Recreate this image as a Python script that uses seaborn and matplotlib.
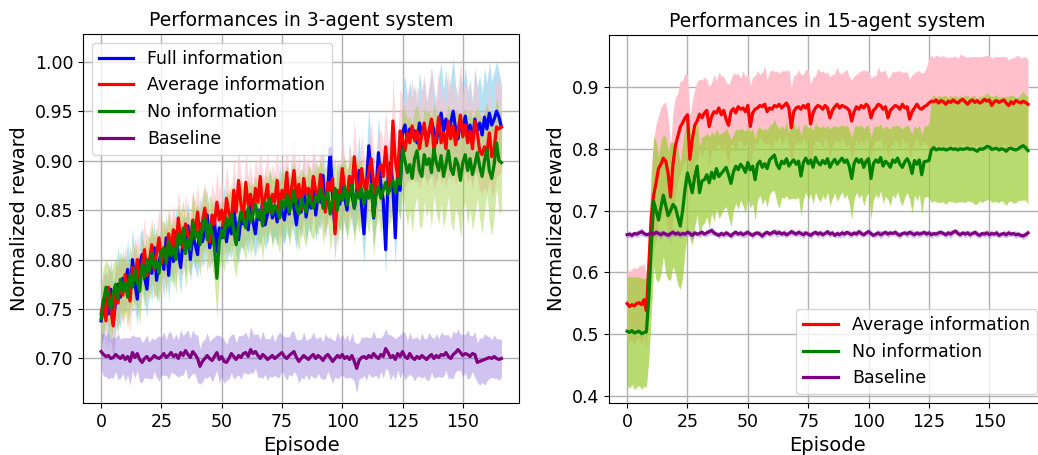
import numpy as np
import pandas as pd
import matplotlib
matplotlib.use("Agg")
import matplotlib.pyplot as plt
import seaborn as sns

episodes = list(range(167))

# ---------------- 3-agent system ----------------
full_3 = [
0.738,0.752,0.760,0.745,0.770,0.735,0.758,0.775,0.762,0.781,
0.770,0.790,0.765,0.800,0.776,0.760,0.795,0.805,0.782,0.770,
0.800,0.786,0.812,0.779,0.798,0.808,0.790,0.822,0.784,0.815,
0.798,0.828,0.806,0.792,0.820,0.812,0.834,0.800,0.825,0.815,
0.805,0.836,0.818,0.828,0.845,0.812,0.826,0.840,0.808,0.832,
0.822,0.846,0.818,0.838,0.826,0.852,0.830,0.820,0.842,0.836,
0.848,0.830,0.856,0.838,0.826,0.850,0.840,0.858,0.835,0.846,
0.862,0.842,0.852,0.838,0.866,0.848,0.840,0.858,0.846,0.870,
0.852,0.835,0.862,0.848,0.876,0.843,0.860,0.852,0.880,0.845,
0.866,0.858,0.885,0.850,0.870,0.912,0.862,0.830,0.868,0.856,
0.878,0.862,0.850,0.884,0.866,0.852,0.870,0.890,0.855,0.826,
0.872,0.915,0.880,0.842,0.868,0.908,0.876,0.860,0.810,0.882,
0.898,0.875,0.822,0.890,0.870,0.928,0.936,0.920,0.932,0.924,
0.930,0.918,0.938,0.926,0.934,0.920,0.928,0.940,0.930,0.918,
0.935,0.948,0.930,0.942,0.926,0.938,0.950,0.932,0.922,0.940,
0.930,0.945,0.928,0.936,0.920,0.942,0.930,0.938,0.926,0.944,
0.932,0.948,0.936,0.942,0.950,0.944,0.934]
full_3_band = [
0.025,0.030,0.028,0.035,0.030,0.040,0.032,0.038,0.030,0.028,
0.026,0.030,0.024,0.032,0.028,0.025,0.030,0.027,0.024,0.029,
0.025,0.030,0.026,0.022,0.028,0.025,0.030,0.024,0.027,0.023,
0.028,0.025,0.022,0.027,0.024,0.030,0.026,0.023,0.028,0.025,
0.024,0.028,0.025,0.030,0.026,0.022,0.027,0.025,0.029,0.024,
0.026,0.030,0.024,0.028,0.025,0.032,0.027,0.024,0.029,0.026,
0.028,0.025,0.030,0.027,0.024,0.029,0.026,0.031,0.025,0.028,
0.030,0.026,0.028,0.024,0.032,0.027,0.025,0.030,0.026,0.033,
0.028,0.025,0.030,0.027,0.034,0.026,0.029,0.025,0.032,0.027,
0.030,0.028,0.035,0.026,0.031,0.038,0.029,0.030,0.033,0.027,
0.032,0.028,0.026,0.034,0.030,0.027,0.031,0.036,0.028,0.030,
0.033,0.040,0.030,0.028,0.032,0.038,0.030,0.027,0.025,0.034,
0.036,0.030,0.028,0.034,0.030,0.045,0.050,0.042,0.048,0.040,
0.046,0.040,0.052,0.044,0.048,0.040,0.046,0.055,0.044,0.040,
0.048,0.052,0.042,0.050,0.044,0.046,0.054,0.045,0.040,0.048,
0.044,0.050,0.042,0.046,0.040,0.052,0.044,0.048,0.042,0.050,
0.046,0.052,0.044,0.048,0.050,0.046,0.042]

avg_3 = [
0.745,0.760,0.738,0.772,0.750,0.733,0.768,0.756,0.776,0.764,
0.785,0.770,0.758,0.792,0.780,0.800,0.776,0.795,0.810,0.784,
0.798,0.815,0.790,0.806,0.822,0.796,0.812,0.800,0.826,0.810,
0.830,0.806,0.842,0.818,0.812,0.836,0.824,0.816,0.840,0.828,
0.848,0.822,0.838,0.852,0.830,0.818,0.845,0.836,0.858,0.840,
0.850,0.832,0.862,0.846,0.838,0.870,0.848,0.880,0.856,0.842,
0.878,0.855,0.866,0.846,0.872,0.858,0.884,0.850,0.862,0.876,
0.848,0.866,0.858,0.880,0.846,0.870,0.862,0.888,0.852,0.872,
0.890,0.860,0.876,0.850,0.882,0.866,0.872,0.858,0.884,0.870,
0.862,0.886,0.866,0.848,0.878,0.870,0.882,0.826,0.870,0.864,
0.892,0.872,0.860,0.884,0.868,0.904,0.876,0.866,0.892,0.875,
0.870,0.888,0.902,0.878,0.866,0.890,0.896,0.884,0.914,0.885,
0.870,0.940,0.900,0.884,0.930,0.922,0.910,0.928,0.918,0.935,
0.920,0.930,0.912,0.926,0.938,0.915,0.930,0.942,0.910,0.924,
0.944,0.918,0.928,0.912,0.940,0.922,0.935,0.916,0.930,0.946,
0.924,0.936,0.918,0.930,0.912,0.940,0.928,0.910,0.906,0.914,
0.908,0.928,0.904,0.912,0.934,0.932,0.934]
avg_3_band = [
0.028,0.032,0.030,0.026,0.034,0.030,0.028,0.033,0.027,0.031,
0.029,0.026,0.032,0.028,0.030,0.025,0.031,0.027,0.033,0.028,
0.030,0.027,0.032,0.026,0.029,0.031,0.027,0.033,0.028,0.030,
0.026,0.031,0.028,0.033,0.027,0.030,0.025,0.032,0.028,0.030,
0.027,0.032,0.029,0.026,0.031,0.028,0.033,0.027,0.030,0.029,
0.031,0.028,0.034,0.027,0.030,0.033,0.028,0.035,0.029,0.031,
0.034,0.028,0.031,0.027,0.033,0.029,0.036,0.028,0.031,0.034,
0.027,0.031,0.029,0.035,0.028,0.032,0.030,0.036,0.028,0.031,
0.037,0.029,0.032,0.028,0.034,0.030,0.033,0.029,0.035,0.031,
0.030,0.035,0.031,0.028,0.033,0.030,0.034,0.028,0.032,0.030,
0.036,0.031,0.029,0.034,0.030,0.038,0.032,0.030,0.035,0.031,
0.030,0.034,0.038,0.032,0.029,0.035,0.036,0.033,0.040,0.034,
0.032,0.045,0.038,0.034,0.044,0.042,0.040,0.046,0.041,0.048,
0.042,0.046,0.040,0.045,0.050,0.041,0.046,0.052,0.040,0.044,
0.050,0.042,0.046,0.040,0.052,0.043,0.048,0.041,0.045,0.053,
0.043,0.048,0.041,0.046,0.040,0.051,0.045,0.040,0.039,0.042,
0.041,0.047,0.040,0.043,0.050,0.046,0.045]

none_3 = [
0.740,0.758,0.772,0.762,0.750,0.766,0.775,0.760,0.780,0.768,
0.776,0.762,0.785,0.772,0.790,0.778,0.768,0.795,0.782,0.800,
0.788,0.806,0.792,0.798,0.786,0.808,0.812,0.796,0.818,0.804,
0.812,0.800,0.826,0.815,0.832,0.806,0.820,0.810,0.838,0.822,
0.828,0.815,0.834,0.842,0.820,0.836,0.826,0.812,0.781,0.818,
0.830,0.822,0.842,0.834,0.846,0.828,0.815,0.836,0.848,0.840,
0.832,0.852,0.838,0.846,0.856,0.842,0.850,0.834,0.858,0.848,
0.862,0.846,0.855,0.850,0.842,0.860,0.852,0.866,0.848,0.858,
0.870,0.852,0.846,0.862,0.854,0.848,0.866,0.858,0.852,0.864,
0.858,0.872,0.852,0.862,0.868,0.846,0.860,0.872,0.850,0.866,
0.860,0.874,0.855,0.866,0.876,0.852,0.868,0.862,0.872,0.856,
0.870,0.862,0.876,0.843,0.866,0.874,0.862,0.870,0.878,0.866,
0.874,0.880,0.868,0.882,0.876,0.912,0.900,0.888,0.896,0.882,
0.902,0.910,0.890,0.884,0.906,0.896,0.902,0.888,0.912,0.898,
0.890,0.905,0.884,0.896,0.910,0.892,0.886,0.902,0.896,0.880,
0.898,0.906,0.890,0.902,0.886,0.896,0.908,0.894,0.884,0.900,
0.912,0.890,0.882,0.896,0.918,0.900,0.898]
none_3_band = [
0.030,0.034,0.028,0.032,0.036,0.030,0.027,0.033,0.029,0.031,
0.028,0.033,0.030,0.026,0.032,0.029,0.034,0.028,0.031,0.027,
0.032,0.028,0.030,0.034,0.029,0.031,0.027,0.033,0.030,0.028,
0.031,0.034,0.029,0.032,0.028,0.035,0.030,0.027,0.033,0.030,
0.029,0.032,0.028,0.031,0.034,0.030,0.033,0.036,0.040,0.032,
0.030,0.034,0.029,0.032,0.031,0.035,0.033,0.030,0.034,0.031,
0.033,0.030,0.035,0.031,0.029,0.034,0.032,0.036,0.030,0.033,
0.031,0.035,0.030,0.033,0.036,0.031,0.034,0.030,0.035,0.032,
0.030,0.034,0.037,0.031,0.033,0.036,0.030,0.034,0.032,0.035,
0.033,0.030,0.036,0.032,0.031,0.038,0.034,0.030,0.037,0.032,
0.035,0.031,0.036,0.033,0.030,0.037,0.032,0.035,0.031,0.036,
0.032,0.036,0.031,0.040,0.034,0.032,0.037,0.033,0.031,0.036,
0.034,0.031,0.037,0.033,0.036,0.045,0.050,0.054,0.048,0.055,
0.050,0.046,0.056,0.052,0.047,0.053,0.049,0.055,0.046,0.051,
0.055,0.048,0.053,0.050,0.046,0.054,0.057,0.049,0.052,0.058,
0.050,0.047,0.055,0.051,0.057,0.052,0.046,0.053,0.058,0.050,
0.046,0.054,0.058,0.051,0.045,0.052,0.050]

base_3 = [
0.707,0.704,0.702,0.703,0.700,0.701,0.704,0.702,0.700,0.703,
0.699,0.702,0.697,0.706,0.701,0.705,0.699,0.696,0.700,0.702,
0.698,0.700,0.703,0.701,0.700,0.702,0.705,0.701,0.703,0.706,
0.702,0.704,0.700,0.706,0.703,0.708,0.704,0.701,0.707,0.704,
0.700,0.692,0.697,0.700,0.703,0.700,0.698,0.702,0.706,0.699,
0.702,0.697,0.696,0.700,0.705,0.702,0.699,0.703,0.701,0.705,
0.706,0.702,0.709,0.705,0.707,0.703,0.700,0.704,0.702,0.699,
0.701,0.703,0.700,0.702,0.704,0.706,0.702,0.700,0.703,0.705,
0.707,0.701,0.697,0.700,0.703,0.701,0.699,0.702,0.704,0.700,
0.703,0.701,0.698,0.702,0.704,0.701,0.697,0.700,0.703,0.701,
0.704,0.700,0.702,0.699,0.703,0.697,0.690,0.698,0.701,0.702,
0.700,0.703,0.701,0.705,0.702,0.700,0.704,0.702,0.710,0.706,
0.701,0.703,0.699,0.705,0.702,0.707,0.702,0.700,0.705,0.701,
0.699,0.702,0.700,0.703,0.701,0.699,0.702,0.704,0.700,0.703,
0.701,0.704,0.703,0.706,0.702,0.700,0.704,0.706,0.709,0.706,
0.703,0.705,0.704,0.702,0.705,0.704,0.696,0.697,0.698,0.699,
0.700,0.701,0.700,0.702,0.700,0.699,0.700]
base_3_band = [
0.018,0.022,0.020,0.024,0.019,0.021,0.017,0.023,0.020,0.018,
0.022,0.019,0.024,0.018,0.021,0.017,0.023,0.020,0.019,0.022,
0.018,0.021,0.016,0.020,0.023,0.019,0.022,0.018,0.024,0.020,
0.017,0.021,0.019,0.023,0.020,0.018,0.025,0.019,0.022,0.020,
0.024,0.018,0.021,0.019,0.023,0.017,0.022,0.020,0.018,0.024,
0.020,0.022,0.018,0.021,0.019,0.023,0.017,0.020,0.022,0.019,
0.021,0.018,0.023,0.020,0.017,0.022,0.019,0.024,0.018,0.021,
0.019,0.022,0.017,0.021,0.023,0.018,0.020,0.022,0.019,0.023,
0.020,0.018,0.022,0.019,0.024,0.017,0.021,0.019,0.023,0.020,
0.018,0.021,0.019,0.023,0.017,0.020,0.022,0.018,0.024,0.019,
0.021,0.019,0.022,0.018,0.023,0.020,0.025,0.018,0.021,0.019,
0.022,0.018,0.020,0.023,0.019,0.021,0.017,0.022,0.020,0.018,
0.023,0.019,0.021,0.017,0.022,0.020,0.024,0.018,0.021,0.019,
0.022,0.020,0.018,0.023,0.019,0.021,0.024,0.018,0.020,0.022,
0.019,0.023,0.021,0.018,0.022,0.020,0.024,0.019,0.021,0.018,
0.022,0.019,0.025,0.021,0.018,0.023,0.020,0.024,0.022,0.026,
0.023,0.021,0.019,0.022,0.020,0.021,0.019]

# ---------------- 15-agent system ----------------
avg_15 = [
0.550,0.545,0.548,0.546,0.550,0.551,0.548,0.556,0.538,0.610,
0.690,0.725,0.745,0.768,0.775,0.785,0.780,0.760,0.722,0.775,
0.805,0.820,0.835,0.842,0.850,0.855,0.783,0.815,0.838,0.845,
0.856,0.850,0.858,0.862,0.836,0.852,0.860,0.858,0.866,0.855,
0.862,0.848,0.838,0.860,0.865,0.858,0.868,0.864,0.866,0.860,
0.870,0.836,0.858,0.864,0.866,0.870,0.868,0.872,0.860,0.866,
0.864,0.870,0.868,0.872,0.866,0.870,0.874,0.866,0.834,0.860,
0.866,0.868,0.864,0.870,0.866,0.872,0.840,0.858,0.866,0.870,
0.868,0.864,0.870,0.866,0.850,0.862,0.868,0.872,0.866,0.870,
0.868,0.866,0.862,0.845,0.860,0.868,0.864,0.870,0.866,0.872,
0.868,0.850,0.862,0.866,0.872,0.870,0.864,0.868,0.850,0.862,
0.866,0.870,0.868,0.864,0.872,0.866,0.868,0.848,0.860,0.866,
0.872,0.866,0.864,0.868,0.870,0.874,0.877,0.876,0.879,0.874,
0.878,0.876,0.872,0.877,0.875,0.879,0.876,0.874,0.878,0.880,
0.876,0.872,0.877,0.879,0.875,0.878,0.874,0.876,0.880,0.877,
0.879,0.870,0.876,0.878,0.875,0.877,0.879,0.874,0.870,0.876,
0.873,0.878,0.876,0.874,0.877,0.875,0.872]
avg_15_band = [
0.060,0.055,0.058,0.062,0.056,0.060,0.064,0.058,0.062,0.070,
0.080,0.090,0.095,0.085,0.092,0.088,0.096,0.090,0.080,0.085,
0.078,0.070,0.075,0.068,0.072,0.065,0.070,0.062,0.058,0.064,
0.056,0.062,0.058,0.050,0.064,0.055,0.060,0.052,0.058,0.063,
0.055,0.060,0.066,0.052,0.058,0.062,0.054,0.050,0.060,0.056,
0.052,0.066,0.058,0.054,0.060,0.050,0.056,0.062,0.052,0.058,
0.064,0.054,0.058,0.050,0.060,0.056,0.052,0.062,0.066,0.058,
0.054,0.060,0.056,0.050,0.062,0.056,0.064,0.058,0.052,0.060,
0.056,0.062,0.052,0.058,0.066,0.058,0.054,0.060,0.056,0.052,
0.058,0.062,0.054,0.066,0.058,0.052,0.060,0.056,0.062,0.054,
0.058,0.064,0.056,0.052,0.060,0.054,0.062,0.058,0.064,0.056,
0.060,0.054,0.058,0.062,0.052,0.058,0.056,0.064,0.060,0.056,
0.054,0.060,0.058,0.056,0.062,0.072,0.074,0.071,0.073,0.075,
0.072,0.074,0.076,0.071,0.073,0.070,0.074,0.072,0.075,0.071,
0.073,0.076,0.072,0.070,0.074,0.071,0.075,0.073,0.070,0.074,
0.072,0.076,0.073,0.071,0.074,0.072,0.070,0.075,0.073,0.071,
0.074,0.072,0.075,0.073,0.071,0.074,0.072]

none_15 = [
0.505,0.503,0.506,0.502,0.504,0.505,0.501,0.503,0.504,0.560,
0.640,0.715,0.700,0.685,0.705,0.725,0.708,0.692,0.700,0.710,
0.705,0.690,0.675,0.700,0.735,0.761,0.745,0.729,0.755,0.772,
0.729,0.748,0.750,0.758,0.745,0.762,0.752,0.768,0.755,0.760,
0.765,0.770,0.758,0.744,0.762,0.772,0.766,0.775,0.770,0.762,
0.778,0.766,0.772,0.750,0.775,0.780,0.770,0.776,0.768,0.782,
0.786,0.790,0.775,0.768,0.780,0.776,0.784,0.772,0.778,0.782,
0.775,0.780,0.756,0.778,0.785,0.776,0.782,0.770,0.786,0.778,
0.774,0.781,0.776,0.784,0.770,0.778,0.783,0.775,0.780,0.785,
0.778,0.782,0.772,0.752,0.776,0.784,0.778,0.783,0.770,0.780,
0.784,0.752,0.776,0.782,0.778,0.786,0.772,0.780,0.776,0.770,
0.782,0.778,0.785,0.775,0.770,0.779,0.784,0.776,0.760,0.781,
0.775,0.782,0.758,0.779,0.780,0.781,0.798,0.802,0.798,0.800,
0.799,0.800,0.798,0.799,0.801,0.799,0.800,0.798,0.800,0.799,
0.800,0.801,0.799,0.800,0.798,0.796,0.800,0.799,0.801,0.804,
0.803,0.799,0.800,0.801,0.798,0.800,0.799,0.796,0.800,0.801,
0.799,0.798,0.800,0.803,0.805,0.802,0.797]
none_15_band = [
0.088,0.090,0.087,0.091,0.089,0.088,0.090,0.087,0.089,0.100,
0.110,0.105,0.112,0.100,0.108,0.098,0.110,0.104,0.112,0.100,
0.106,0.110,0.102,0.108,0.100,0.095,0.090,0.085,0.082,0.078,
0.075,0.072,0.070,0.068,0.074,0.066,0.070,0.064,0.068,0.066,
0.062,0.064,0.068,0.070,0.062,0.060,0.064,0.058,0.062,0.066,
0.058,0.062,0.060,0.066,0.058,0.055,0.060,0.057,0.062,0.056,
0.054,0.058,0.062,0.064,0.058,0.056,0.060,0.054,0.058,0.062,
0.056,0.058,0.066,0.060,0.055,0.058,0.054,0.060,0.056,0.058,
0.060,0.056,0.058,0.054,0.062,0.058,0.055,0.060,0.057,0.054,
0.058,0.056,0.060,0.066,0.058,0.054,0.058,0.056,0.062,0.057,
0.055,0.066,0.058,0.056,0.058,0.054,0.060,0.057,0.058,0.062,
0.056,0.058,0.054,0.060,0.062,0.057,0.055,0.058,0.064,0.056,
0.058,0.056,0.064,0.058,0.057,0.060,0.085,0.086,0.084,0.087,
0.085,0.086,0.088,0.084,0.086,0.085,0.087,0.084,0.086,0.085,
0.087,0.085,0.084,0.086,0.088,0.085,0.084,0.086,0.085,0.087,
0.084,0.086,0.085,0.087,0.085,0.084,0.086,0.088,0.085,0.086,
0.087,0.085,0.084,0.086,0.088,0.085,0.087]

base_15 = [
0.661,0.662,0.660,0.663,0.662,0.664,0.666,0.663,0.661,0.662,
0.664,0.662,0.665,0.663,0.661,0.664,0.662,0.660,0.663,0.665,
0.662,0.664,0.661,0.663,0.662,0.665,0.663,0.660,0.664,0.662,
0.663,0.665,0.662,0.664,0.666,0.668,0.664,0.662,0.660,0.663,
0.661,0.664,0.662,0.659,0.663,0.665,0.662,0.664,0.661,0.663,
0.665,0.662,0.660,0.663,0.664,0.662,0.659,0.663,0.665,0.662,
0.664,0.666,0.663,0.665,0.662,0.664,0.661,0.663,0.666,0.664,
0.662,0.665,0.663,0.661,0.664,0.662,0.660,0.663,0.665,0.662,
0.664,0.661,0.663,0.666,0.662,0.664,0.660,0.663,0.661,0.664,
0.662,0.665,0.663,0.661,0.664,0.662,0.666,0.663,0.661,0.664,
0.666,0.663,0.660,0.662,0.664,0.661,0.663,0.665,0.662,0.664,
0.663,0.665,0.662,0.660,0.663,0.664,0.662,0.665,0.663,0.661,
0.664,0.662,0.663,0.665,0.662,0.664,0.661,0.663,0.662,0.664,
0.665,0.663,0.661,0.664,0.662,0.665,0.667,0.663,0.661,0.664,
0.662,0.664,0.661,0.663,0.665,0.662,0.660,0.663,0.662,0.664,
0.661,0.663,0.662,0.664,0.660,0.662,0.663,0.661,0.664,0.662,
0.663,0.661,0.662,0.660,0.659,0.661,0.664]
base_15_band = [
0.005,0.006,0.005,0.004,0.006,0.005,0.007,0.005,0.004,0.006,
0.005,0.004,0.006,0.005,0.007,0.005,0.004,0.006,0.005,0.006,
0.004,0.005,0.006,0.005,0.004,0.006,0.005,0.007,0.005,0.004,
0.006,0.005,0.004,0.006,0.005,0.007,0.005,0.004,0.006,0.005,
0.005,0.006,0.004,0.005,0.006,0.005,0.004,0.006,0.005,0.007,
0.005,0.004,0.006,0.005,0.004,0.006,0.005,0.006,0.004,0.005,
0.006,0.005,0.007,0.005,0.004,0.006,0.005,0.004,0.006,0.005,
0.004,0.006,0.005,0.007,0.005,0.004,0.006,0.005,0.004,0.006,
0.005,0.006,0.004,0.005,0.006,0.005,0.004,0.006,0.005,0.007,
0.005,0.004,0.006,0.005,0.004,0.006,0.005,0.006,0.004,0.005,
0.006,0.005,0.004,0.006,0.005,0.007,0.005,0.004,0.006,0.005,
0.004,0.006,0.005,0.006,0.004,0.005,0.006,0.005,0.007,0.005,
0.004,0.006,0.005,0.004,0.006,0.005,0.006,0.004,0.005,0.006,
0.005,0.004,0.006,0.005,0.007,0.005,0.004,0.006,0.005,0.004,
0.006,0.005,0.006,0.004,0.005,0.006,0.005,0.004,0.006,0.005,
0.007,0.005,0.004,0.006,0.005,0.004,0.006,0.005,0.006,0.004,
0.005,0.006,0.005,0.004,0.006,0.005,0.006]

titles = ["Performances in 3-agent system", "Performances in 15-agent system"]
labels_3 = ["Full information", "Average information", "No information", "Baseline"]
labels_15 = ["Average information", "No information", "Baseline"]
x_ticks = [0, 25, 50, 75, 100, 125, 150]
y_ticks_3 = [0.70, 0.75, 0.80, 0.85, 0.90, 0.95, 1.00]
y_ticks_15 = [0.4, 0.5, 0.6, 0.7, 0.8, 0.9]

plt.rcParams['font.family'] = ['DejaVu Sans']

fig = plt.figure(figsize=(10.38, 4.55), dpi=100)
ax1 = fig.add_axes([0.0800, 0.1143, 0.4200, 0.8110])
ax2 = fig.add_axes([0.5867, 0.1143, 0.4206, 0.8088])

ep = np.array(episodes)

def draw_band(ax, mean, band, band_color, alpha):
    m = np.array(mean)
    b = np.array(band)
    ax.fill_between(ep, m - b, m + b, color=band_color, alpha=alpha, linewidth=0)

# left panel
series_3 = [
    (full_3, full_3_band, "blue", "skyblue", 0.6, labels_3[0]),
    (avg_3, avg_3_band, "red", "pink", 0.6, labels_3[1]),
    (none_3, none_3_band, "green", "yellowgreen", 0.42, labels_3[2]),
    (base_3, base_3_band, "purple", "mediumpurple", 0.42, labels_3[3]),
]
for mean, band, lc, bc, a, lab in series_3:
    draw_band(ax1, mean, band, bc, a)
for mean, band, lc, bc, a, lab in series_3:
    df = pd.DataFrame({"Episode": episodes, "value": mean})
    sns.lineplot(data=df, x="Episode", y="value", ax=ax1, color=lc, linewidth=2.3, label=lab)

# right panel
series_15 = [
    (avg_15, avg_15_band, "red", "pink", 1.0, labels_15[0]),
    (none_15, none_15_band, "green", "yellowgreen", 0.7, labels_15[1]),
    (base_15, base_15_band, "purple", "mediumpurple", 0.42, labels_15[2]),
]
for mean, band, lc, bc, a, lab in series_15:
    draw_band(ax2, mean, band, bc, a)
for mean, band, lc, bc, a, lab in series_15:
    df = pd.DataFrame({"Episode": episodes, "value": mean})
    sns.lineplot(data=df, x="Episode", y="value", ax=ax2, color=lc, linewidth=2.3, label=lab)

for ax, title, yt, ylim, loc in [
    (ax1, titles[0], y_ticks_3, (0.655, 1.028), "upper left"),
    (ax2, titles[1], y_ticks_15, (0.389, 0.984), "lower right"),
]:
    ax.set_xlim(-7.5, 173.3)
    ax.set_ylim(*ylim)
    ax.set_xticks(x_ticks)
    ax.set_yticks(yt)
    ax.grid(True, color="#b0b0b0", linewidth=1.0)
    ax.set_axisbelow(True)
    ax.tick_params(labelsize=12.5)
    ax.set_xlabel("Episode", fontsize=14)
    ax.set_ylabel("Normalized reward", fontsize=14)
    ax.set_title(title, fontsize=13.5)
    ax.legend(loc=loc, fontsize=12.5)

ax1.yaxis.set_major_formatter(matplotlib.ticker.FormatStrFormatter("%.2f"))
ax2.yaxis.set_major_formatter(matplotlib.ticker.FormatStrFormatter("%.1f"))

fig.savefig("out.png", dpi=100)
